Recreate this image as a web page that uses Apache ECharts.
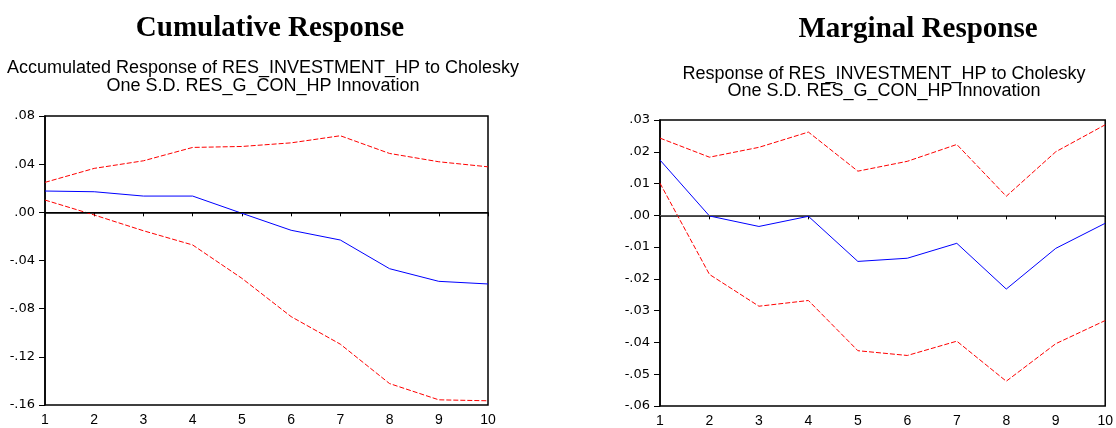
<!DOCTYPE html>
<html>
<head>
<meta charset="utf-8">
<script src="https://cdn.jsdelivr.net/npm/echarts@6/dist/echarts.min.js"></script>
<style>
html,body{margin:0;padding:0;background:#fff;}
#c{width:1116px;height:428px;}
</style>
</head>
<body>
<div id="c"></div>
<script>
// ---- data ----
var periods = ['1','2','3','4','5','6','7','8','9','10'];

var cumUpper = [0.0249, 0.0365, 0.0428, 0.0539, 0.0547, 0.0577, 0.0636, 0.0489, 0.0420, 0.0378];
var cumMid   = [0.0177, 0.0171, 0.0135, 0.0135, -0.0008, -0.0149, -0.0230, -0.0468, -0.0573, -0.0595];
var cumLower = [0.0102, -0.0022, -0.0153, -0.0271, -0.0548, -0.0866, -0.1095, -0.1422, -0.1557, -0.1565];

var marUpper = [0.0243, 0.0183, 0.0214, 0.0262, 0.0139, 0.0170, 0.0223, 0.0060, 0.0200, 0.0285];
var marMid   = [0.0174, -0.0002, -0.0035, -0.0003, -0.0145, -0.0135, -0.0088, -0.0232, -0.0104, -0.0025];
var marLower = [0.0101, -0.0186, -0.0286, -0.0268, -0.0426, -0.0441, -0.0396, -0.0522, -0.0404, -0.0331];

var cumTickValues = [-0.16, -0.12, -0.08, -0.04, 0.00, 0.04, 0.08];
var cumTickLabels = ['-.16', '-.12', '-.08', '-.04', '.00', '.04', '.08'];
var marTickValues = [-0.06, -0.05, -0.04, -0.03, -0.02, -0.01, 0.00, 0.01, 0.02, 0.03];
var marTickLabels = ['-.06', '-.05', '-.04', '-.03', '-.02', '-.01', '.00', '.01', '.02', '.03'];

var titleLeft = 'Cumulative Response';
var titleRight = 'Marginal Response';
var subLeft = ['Accumulated Response of RES_INVESTMENT_HP to Cholesky', 'One S.D. RES_G_CON_HP Innovation'];
var subRight = ['Response of RES_INVESTMENT_HP to Cholesky', 'One S.D. RES_G_CON_HP Innovation'];

// ---- chart ----
function lookup(vals, labels) {
  return function (v) {
    for (var i = 0; i < vals.length; i++) if (Math.abs(vals[i] - v) < 1e-9) return labels[i];
    return '';
  };
}
var chart = echarts.init(document.getElementById('c'), null, {renderer: 'canvas'});

function xAxis(gi) {
  return {
    type: 'category', gridIndex: gi, data: periods, boundaryGap: false,
    axisLine: {show: true, lineStyle: {color: '#000', width: 1.5}},
    axisTick: {show: true, alignWithLabel: true, length: 4, lineStyle: {color: '#000'}},
    axisLabel: {color: '#000', fontFamily: 'Liberation Sans', fontSize: 14, margin: 8, showMaxLabel: true, showMinLabel: true, interval: 0},
    splitLine: {show: false}
  };
}
function yAxis(gi, min, max, interval, vals, labels) {
  return {
    type: 'value', gridIndex: gi, min: min, max: max, interval: interval,
    axisLine: {show: true, lineStyle: {color: '#000', width: 1.5}},
    axisTick: {show: true, length: 6, lineStyle: {color: '#000'}},
    axisLabel: {color: '#000', fontFamily: 'DejaVu Sans', fontSize: 13, margin: 10, formatter: lookup(vals, labels)},
    splitLine: {show: false}
  };
}
function zeroLine(color) {
  return {
    silent: true, symbol: ['none', 'none'], label: {show: false},
    lineStyle: {color: color, width: 1.2, type: 'solid'},
    data: [{yAxis: 0}]
  };
}
function band(name, data, gi) {
  return {
    name: name, type: 'line', xAxisIndex: gi, yAxisIndex: gi, data: data,
    symbol: 'none', lineStyle: {color: '#ff0000', width: 1, type: [5, 2]}, z: 3
  };
}

var option = {
  animation: false,
  backgroundColor: '#fff',
  grid: [
    {left: 45, top: 116, width: 443, height: 289, show: true, borderColor: '#000', borderWidth: 1.5, backgroundColor: 'transparent'},
    {left: 660, top: 120, width: 447, height: 290, show: true, borderColor: '#000', borderWidth: 1.5, backgroundColor: 'transparent'}
  ],
  xAxis: [xAxis(0), xAxis(1)],
  yAxis: [
    yAxis(0, -0.16, 0.08, 0.04, cumTickValues, cumTickLabels),
    yAxis(1, -0.06, 0.03, 0.01, marTickValues, marTickLabels)
  ],
  graphic: [
    {type: 'text', x: 270, y: 29, style: {text: titleLeft, fill: '#000', font: 'bold 29px "Liberation Serif"', textAlign: 'center', textVerticalAlign: 'middle'}},
    {type: 'text', x: 918, y: 30, style: {text: titleRight, fill: '#000', font: 'bold 29px "Liberation Serif"', textAlign: 'center', textVerticalAlign: 'middle'}},
    {type: 'text', x: 263, y: 68, style: {text: subLeft[0], fill: '#000', font: '18px "Liberation Sans"', textAlign: 'center', textVerticalAlign: 'middle'}},
    {type: 'text', x: 263, y: 86, style: {text: subLeft[1], fill: '#000', font: '18px "Liberation Sans"', textAlign: 'center', textVerticalAlign: 'middle'}},
    {type: 'text', x: 884, y: 74, style: {text: subRight[0], fill: '#000', font: '18px "Liberation Sans"', textAlign: 'center', textVerticalAlign: 'middle'}},
    {type: 'text', x: 884, y: 91, style: {text: subRight[1], fill: '#000', font: '18px "Liberation Sans"', textAlign: 'center', textVerticalAlign: 'middle'}}
  ],
  series: [
    {name: 'Cumulative response', type: 'line', xAxisIndex: 0, yAxisIndex: 0, data: cumMid, symbol: 'none',
      lineStyle: {color: '#0000ff', width: 1}, z: 4, markLine: zeroLine('#000')},
    band('Cumulative upper', cumUpper, 0),
    band('Cumulative lower', cumLower, 0),
    {name: 'Marginal response', type: 'line', xAxisIndex: 1, yAxisIndex: 1, data: marMid, symbol: 'none',
      lineStyle: {color: '#0000ff', width: 1}, z: 4, markLine: zeroLine('#555')},
    band('Marginal upper', marUpper, 1),
    band('Marginal lower', marLower, 1)
  ]
};
chart.setOption(option);
</script>
</body>
</html>
